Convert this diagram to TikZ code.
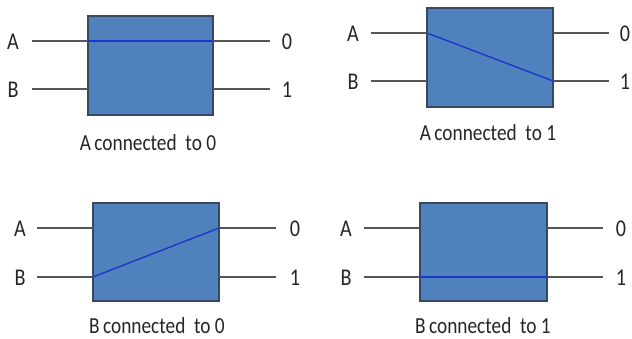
\documentclass[tikz,border=0pt]{standalone}
\usepackage{fontspec}
\setmainfont{Carlito}[FakeStretch=0.84]
\definecolor{boxfill}{RGB}{79,129,189}
\definecolor{boxedge}{RGB}{56,72,96}
\definecolor{wire}{RGB}{85,85,85}
\definecolor{link}{RGB}{30,55,200}
\tikzset{
  swbox/.style={draw=boxedge,fill=boxfill,line width=1.1pt,inner sep=0pt},
  wireline/.style={draw=wire,line width=1.2pt},
  linkline/.style={draw=link,line width=1.4pt},
  lbl/.style={font=\fontsize{24}{26}\selectfont,inner sep=0pt,text=black!85},
  captxt/.style={font=\fontsize{23}{26}\selectfont,inner sep=0pt,text=black!85}
}
\begin{document}
\begin{tikzpicture}[x=1pt,y=-1pt]
\useasboundingbox (0,0) rectangle (632,339);
\fill[white] (0,0) rectangle (632,339);
% Panel 1
\path[swbox] (88,16) rectangle (213,115);
\coordinate (p1a) at (88,41); \coordinate (p1b) at (88,89);
\coordinate (p1z) at (213,41); \coordinate (p1o) at (213,89);
\node[lbl] (p1A) at (13,42) {A}; \node[lbl] (p1B) at (13,90) {B};
\node[lbl] (p10) at (287,42) {0}; \node[lbl] (p11) at (287,90) {1};
\coordinate (p1la) at (32,41); \coordinate (p1lb) at (32,89);
\coordinate (p1rz) at (270,41); \coordinate (p1ro) at (270,89);
\draw[wireline] (p1la) -- (p1a); \draw[wireline] (p1lb) -- (p1b);
\draw[wireline] (p1z) -- (p1rz); \draw[wireline] (p1o) -- (p1ro);
\draw[linkline] (p1a) -- (p1z);
\node[captxt] (p1c) at (148,143) {A\kern-1pt\ connected\ \ to 0};
% Panel 2
\path[swbox] (427,8) rectangle (553,107);
\coordinate (p2a) at (427,33); \coordinate (p2b) at (427,81);
\coordinate (p2z) at (553,33); \coordinate (p2o) at (553,81);
\node[lbl] (p2A) at (353,34) {A}; \node[lbl] (p2B) at (353,82) {B};
\node[lbl] (p20) at (625,34) {0}; \node[lbl] (p21) at (625,82) {1};
\coordinate (p2la) at (371,33); \coordinate (p2lb) at (371,81);
\coordinate (p2rz) at (609,33); \coordinate (p2ro) at (609,81);
\draw[wireline] (p2la) -- (p2a); \draw[wireline] (p2lb) -- (p2b);
\draw[wireline] (p2z) -- (p2rz); \draw[wireline] (p2o) -- (p2ro);
\draw[linkline] (p2a) -- (p2o);
\node[captxt] (p2c) at (488,133) {A\kern-1pt\ connected\ \ to 1};
% Panel 3
\path[swbox] (93,203) rectangle (219,301);
\coordinate (p3a) at (93,228); \coordinate (p3b) at (93,277);
\coordinate (p3z) at (219,228); \coordinate (p3o) at (219,277);
\node[lbl] (p3A) at (20,229) {A}; \node[lbl] (p3B) at (20,278) {B};
\node[lbl] (p30) at (295,229) {0}; \node[lbl] (p31) at (295,278) {1};
\coordinate (p3la) at (37,228); \coordinate (p3lb) at (37,277);
\coordinate (p3rz) at (276,228); \coordinate (p3ro) at (276,277);
\draw[wireline] (p3la) -- (p3a); \draw[wireline] (p3lb) -- (p3b);
\draw[wireline] (p3z) -- (p3rz); \draw[wireline] (p3o) -- (p3ro);
\draw[linkline] (p3b) -- (p3z);
\node[captxt] (p3c) at (157,326) {B\kern-1pt\ connected\ \ to 0};
% Panel 4
\path[swbox] (420,203) rectangle (547,301);
\coordinate (p4a) at (420,228); \coordinate (p4b) at (420,277);
\coordinate (p4z) at (547,228); \coordinate (p4o) at (547,277);
\node[lbl] (p4A) at (346,229) {A}; \node[lbl] (p4B) at (346,278) {B};
\node[lbl] (p40) at (621,229) {0}; \node[lbl] (p41) at (621,278) {1};
\coordinate (p4la) at (364,228); \coordinate (p4lb) at (364,277);
\coordinate (p4rz) at (603,228); \coordinate (p4ro) at (603,277);
\draw[wireline] (p4la) -- (p4a); \draw[wireline] (p4lb) -- (p4b);
\draw[wireline] (p4z) -- (p4rz); \draw[wireline] (p4o) -- (p4ro);
\draw[linkline] (p4b) -- (p4o);
\node[captxt] (p4c) at (483,326) {B\kern-1pt\ connected\ \ to 1};
\end{tikzpicture}
\end{document}
